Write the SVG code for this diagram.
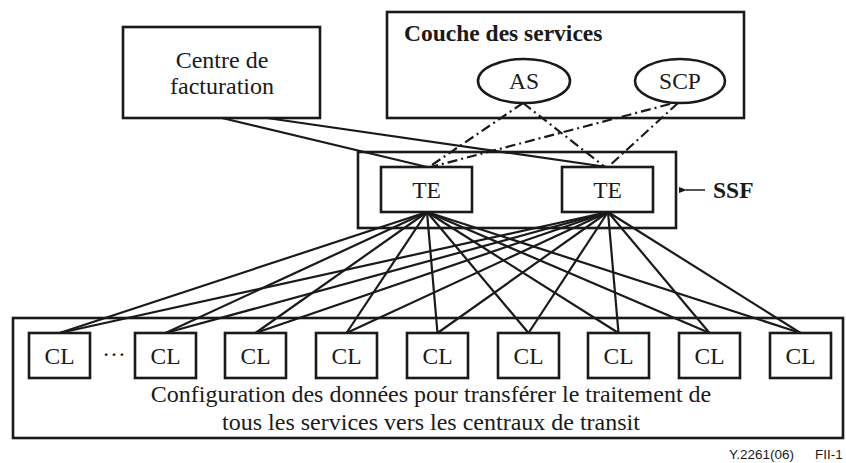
<svg xmlns="http://www.w3.org/2000/svg" width="846" height="463" viewBox="0 0 846 463">
<style>
.box{fill:#fff;stroke:#1a1a1a;stroke-width:2.6}
.frame{fill:none;stroke:#1a1a1a;stroke-width:2.6}
.t{font-family:"Liberation Serif","Times New Roman",serif;font-size:23.5px;fill:#1a1a1a;text-anchor:middle}
.big{font-size:24px}
.b{font-weight:bold}
.s{text-anchor:start}
.ln{stroke:#1a1a1a;stroke-width:2.2;fill:none}
.dd{stroke:#1a1a1a;stroke-width:2.2;fill:none;stroke-dasharray:10 4 2 4}
.fn{font-family:"Liberation Sans",Arial,sans-serif;font-size:13.5px;fill:#1a1a1a}
</style>
<defs>
<marker id="ah" markerWidth="8" markerHeight="8" refX="1" refY="4" orient="auto" markerUnits="userSpaceOnUse">
<path d="M8,1 L0,4 L8,7 Z" fill="#1a1a1a"/>
</marker>
</defs>
<rect width="846" height="463" fill="#fff"/>
<g id="local-layer">
<rect class="frame" x="13" y="318" width="830" height="120"/>
<text class="t big" x="431" y="402">Configuration des données pour transférer le traitement de</text>
<text class="t big" x="431" y="430">tous les services vers les centraux de transit</text>
<text class="t" x="114" y="356" font-size="18">…</text>
</g>
<g id="ssf">
<rect class="frame" x="358" y="152" width="318" height="76"/>
<line x1="705" y1="190" x2="686" y2="190" stroke="#1a1a1a" stroke-width="1.5" marker-end="url(#ah)"/>
<text class="t b s" x="713" y="198">SSF</text>
</g>
<g id="connectors">
<line class="ln" x1="222" y1="118" x2="427" y2="167"/>
<line class="ln" x1="267" y1="118" x2="607" y2="167"/>
<line class="dd" x1="523" y1="103" x2="429" y2="167"/>
<line class="dd" x1="523" y1="103" x2="605" y2="167"/>
<line class="dd" x1="670" y1="104" x2="431" y2="167"/>
<line class="dd" x1="678" y1="103" x2="608" y2="167"/>
<g class="ln">
<line x1="427" y1="212" x2="59.5" y2="333"/>
<line x1="427" y1="212" x2="165.5" y2="333"/>
<line x1="427" y1="212" x2="255.5" y2="333"/>
<line x1="427" y1="212" x2="346.5" y2="333"/>
<line x1="427" y1="212" x2="437.5" y2="333"/>
<line x1="427" y1="212" x2="528.5" y2="333"/>
<line x1="427" y1="212" x2="618.5" y2="333"/>
<line x1="427" y1="212" x2="709.5" y2="333"/>
<line x1="427" y1="212" x2="800.5" y2="333"/>
<line x1="608" y1="212" x2="59.5" y2="333"/>
<line x1="608" y1="212" x2="165.5" y2="333"/>
<line x1="608" y1="212" x2="255.5" y2="333"/>
<line x1="608" y1="212" x2="346.5" y2="333"/>
<line x1="608" y1="212" x2="437.5" y2="333"/>
<line x1="608" y1="212" x2="528.5" y2="333"/>
<line x1="608" y1="212" x2="618.5" y2="333"/>
<line x1="608" y1="212" x2="709.5" y2="333"/>
<line x1="608" y1="212" x2="800.5" y2="333"/>
</g>
</g>
<g id="billing">
<rect class="box" x="123" y="27" width="197" height="91"/>
<text class="t big" x="222" y="68">Centre de</text>
<text class="t big" x="222" y="94">facturation</text>
</g>
<g id="service-layer">
<rect class="frame" x="387" y="12" width="357" height="106"/>
<text class="t b s" x="404" y="41">Couche des services</text>
</g>
<g id="as">
<ellipse class="box" cx="524" cy="81" rx="46" ry="22"/>
<text class="t" x="524" y="89">AS</text>
</g>
<g id="scp">
<ellipse class="box" cx="680" cy="81" rx="45" ry="22"/>
<text class="t" x="680" y="89">SCP</text>
</g>
<g id="te1">
<rect class="box" x="381" y="167" width="91" height="45"/>
<text class="t" x="426.5" y="198">TE</text>
</g>
<g id="te2">
<rect class="box" x="562" y="167" width="91" height="45"/>
<text class="t" x="607.5" y="198">TE</text>
</g>
<g id="cl1"><rect class="box" x="29" y="333" width="61" height="45"/><text class="t" x="59.5" y="364">CL</text></g>
<g id="cl2"><rect class="box" x="135" y="333" width="61" height="45"/><text class="t" x="165.5" y="364">CL</text></g>
<g id="cl3"><rect class="box" x="225" y="333" width="61" height="45"/><text class="t" x="255.5" y="364">CL</text></g>
<g id="cl4"><rect class="box" x="316" y="333" width="61" height="45"/><text class="t" x="346.5" y="364">CL</text></g>
<g id="cl5"><rect class="box" x="407" y="333" width="61" height="45"/><text class="t" x="437.5" y="364">CL</text></g>
<g id="cl6"><rect class="box" x="498" y="333" width="61" height="45"/><text class="t" x="528.5" y="364">CL</text></g>
<g id="cl7"><rect class="box" x="588" y="333" width="61" height="45"/><text class="t" x="618.5" y="364">CL</text></g>
<g id="cl8"><rect class="box" x="679" y="333" width="61" height="45"/><text class="t" x="709.5" y="364">CL</text></g>
<g id="cl9"><rect class="box" x="770" y="333" width="61" height="45"/><text class="t" x="800.5" y="364">CL</text></g>
<text class="fn" y="459"><tspan x="729">Y.2261(06)</tspan><tspan x="815">FII-1</tspan></text>
</svg>
